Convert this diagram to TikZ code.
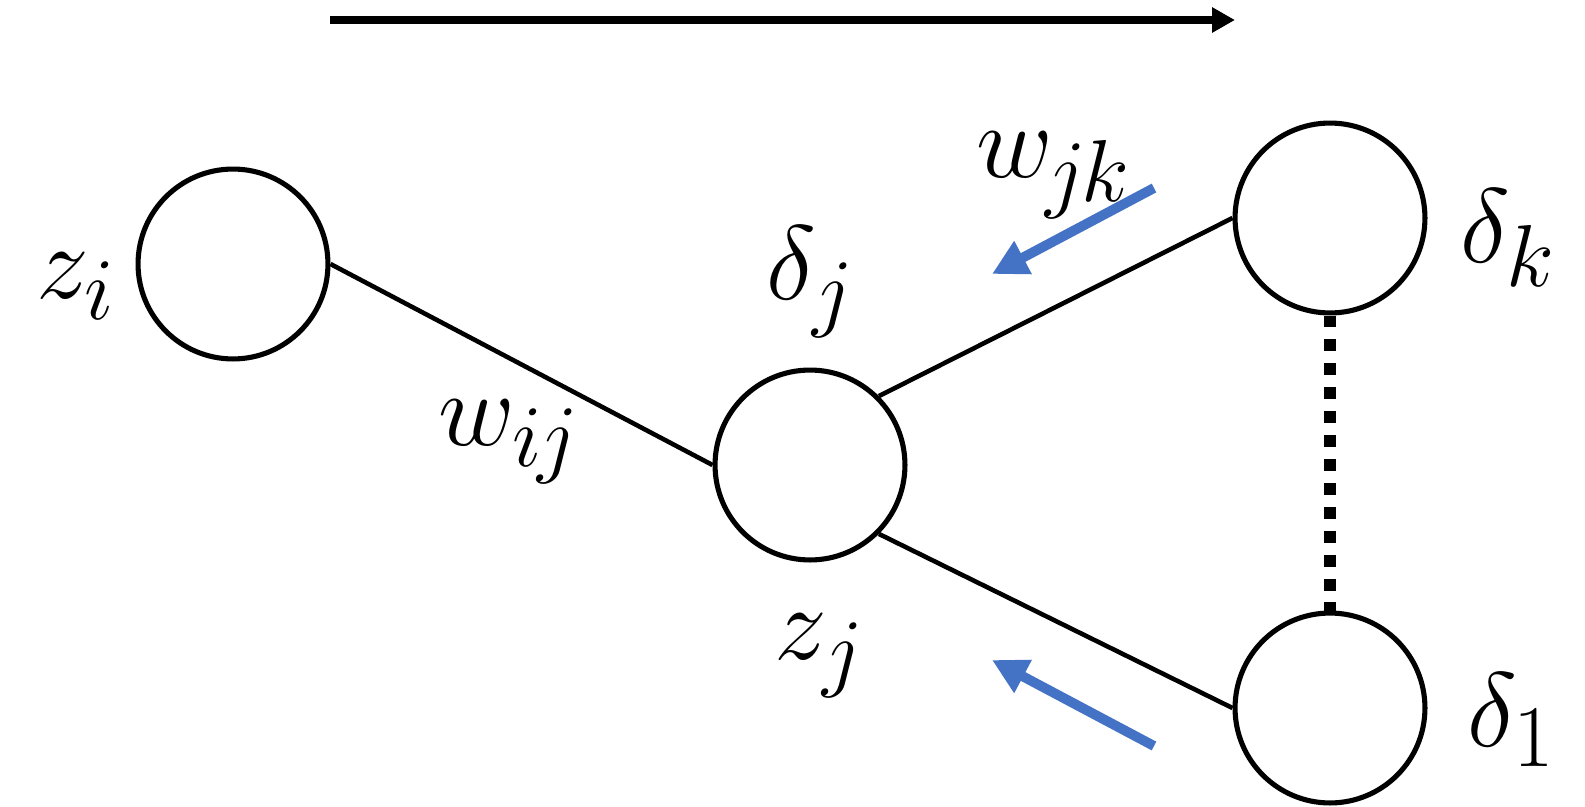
\documentclass[tikz,border=0pt]{standalone}
\usepackage{graphicx}
\usetikzlibrary{arrows.meta}
\definecolor{arrowblue}{RGB}{68,114,196}
\newcommand{\biglbl}[1]{\scalebox{1.206}{$#1$}}
\begin{document}
\begin{tikzpicture}[x=0.01cm,y=-0.01cm,
  neuron/.style={circle,draw,line width=1.45pt,minimum size=54pt,inner sep=0pt},
  conn/.style={line width=1.3pt},
  lbl/.style={anchor=base west,inner sep=0pt,font=\fontsize{24.88}{30}\selectfont},
  backarrow/.style={draw=arrowblue,line width=2.8pt,-{Triangle[length=10pt,width=10pt]}},
  fwdarrow/.style={line width=2.3pt,-{Triangle[length=6.5pt,width=6.8pt]}},
  dotconn/.style={line width=3.2pt,dash pattern=on 3.4pt off 3.4pt}]
\useasboundingbox (0,0) rectangle (1585,806);
% neurons
\node[neuron] (zi) at (233,264) {};
\node[neuron] (zj) at (810,465) {};
\node[neuron] (dk) at (1330,218) {};
\node[neuron] (d1) at (1330,708) {};
% connections
\draw[conn] (zi.east) -- (zj.west);
\draw[conn] (zj.north east) -- (dk.west);
\draw[conn] (zj.south east) -- (d1.west);
\draw[dotconn] (dk.south) -- (d1.north);
% top forward arrow
\coordinate (fs) at (330,20);
\coordinate (fe) at (1235,20);
\draw[fwdarrow] (fs) -- (fe);
% blue backward arrows
\coordinate (b1s) at (1154,188);
\coordinate (b1e) at (992,274);
\coordinate (b2s) at (1154,746);
\coordinate (b2e) at (992,660);
\draw[backarrow] (b1s) -- (b1e);
\draw[backarrow] (b2s) -- (b2e);
% labels
\node[lbl] (lzi) at (36,298) {\biglbl{z_i}};
\node[lbl] (lwij) at (438,445) {\biglbl{w_{i\mkern-1mu j}}};
\node[lbl] (ldj) at (766,299) {\biglbl{\delta_j}};
\node[lbl] (lwjk) at (976,177) {\biglbl{w_{\mkern-1mu j\mkern-1mu k}}};
\node[lbl] (ldk) at (1460,262) {\biglbl{\delta_k}};
\node[lbl] (lzj) at (774,659) {\biglbl{z_j}};
\node[lbl] (ld1) at (1467,746) {\biglbl{\delta_1}};
\end{tikzpicture}
\end{document}
